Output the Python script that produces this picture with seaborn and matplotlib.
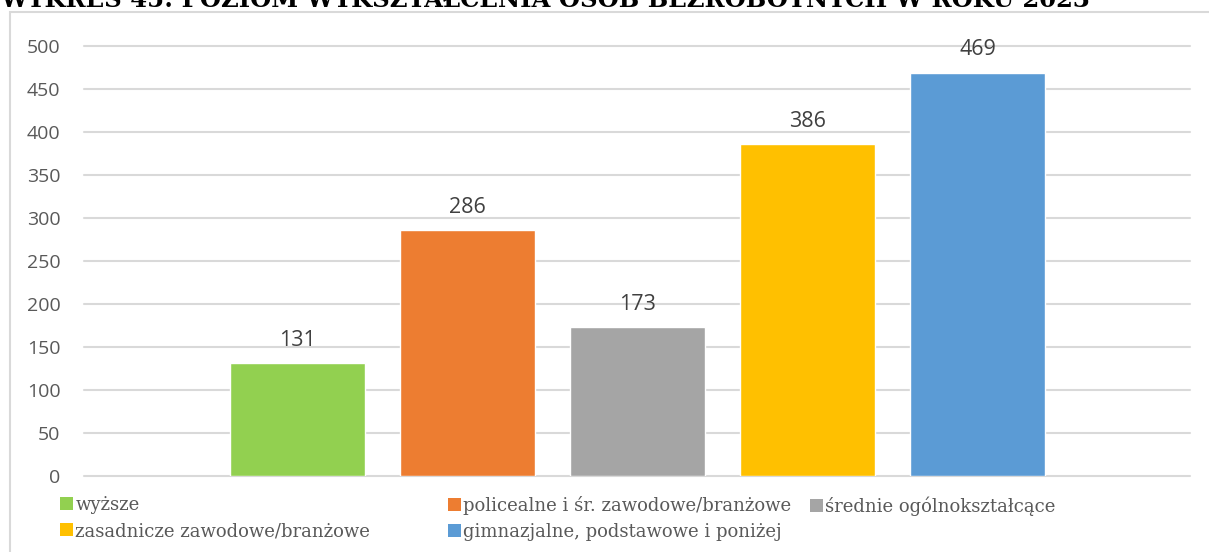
import matplotlib
matplotlib.use("Agg")
import matplotlib.pyplot as plt
import seaborn as sns
import pandas as pd
from matplotlib.patches import Patch, Rectangle

# dane z wykresu
kategorie = ["wyższe", "policealne i śr. zawodowe/branżowe", "średnie ogólnokształcące",
             "zasadnicze zawodowe/branżowe", "gimnazjalne, podstawowe i poniżej"]
liczba_osob = [131, 286, 173, 386, 469]
kolory = ["#92D050", "#ED7D31", "#A5A5A5", "#FFC000", "#5B9BD5"]
tytul = "WYKRES 45: POZIOM WYKSZTAŁCENIA OSÓB BEZROBOTNYCH W ROKU 2023"
podzialka_y = list(range(0, 501, 50))

df = pd.DataFrame({"kategoria": kategorie, "liczba": liczba_osob})

sns.set_theme(style="white")
plt.rcParams["font.family"] = ["Open Sans", "DejaVu Sans"]

W, H = 1209, 552
fig = plt.figure(figsize=(W / 100, H / 100), dpi=100)
ax = fig.add_axes([84 / W, 1 - 476 / H, (1190 - 84) / W, (476 - 46) / H])

sns.barplot(data=df, x="kategoria", y="liczba", hue="kategoria", palette=kolory,
            width=0.794, saturation=1, legend=False, ax=ax)

for c in ax.containers:
    ax.bar_label(c, fmt="%d", padding=9, fontsize=15.5, color="#404040")

ax.set_xlim(-1.256, 5.247)
ax.set_ylim(0, 500)
ax.set_yticks(podzialka_y)
ax.tick_params(axis="y", length=0, pad=17, labelsize=14, labelcolor="#595959")
ax.set_xticks([])
ax.set_xlabel("")
ax.set_ylabel("")
ax.yaxis.grid(True, color="#D9D9D9", lw=1.5)
ax.set_axisbelow(True)
for ln in ax.get_ygridlines():
    ln.set_clip_on(False)
sns.despine(ax=ax, left=True, bottom=True)

# ramka wykresu
fig.add_artist(Rectangle((10 / W, -0.1), 1.2, 1.1 - 12 / H, transform=fig.transFigure,
                         fill=False, edgecolor="#D9D9D9", lw=1.5, clip_on=False))

# tytuł (przycięty u góry jak w oryginale)
fig.text(0.0, 1 - 7 / H, tytul, fontfamily="DejaVu Serif", fontweight="bold",
         fontsize=17.5, va="baseline", ha="left", color="black")

# legenda w trzech kolumnach o równych odstępach
kolumny = [[0, 3], [1, 4], [2]]
x_kol = [60, 448, 810]
for idx, x0 in zip(kolumny, x_kol):
    uchwyty = [Patch(facecolor=kolory[i], edgecolor="none") for i in idx]
    etykiety = [kategorie[i] for i in idx]
    leg = fig.legend(uchwyty, etykiety, loc="upper left",
                     bbox_to_anchor=(x0 / W, 1 - 496 / H), frameon=False,
                     borderpad=0, borderaxespad=0, handlelength=0.7, handleheight=0.7,
                     handletextpad=0.15, labelspacing=0.45,
                     prop={"family": "DejaVu Serif", "size": 13})
    for t in leg.get_texts():
        t.set_color("#595959")

fig.savefig("out.png", dpi=100)
